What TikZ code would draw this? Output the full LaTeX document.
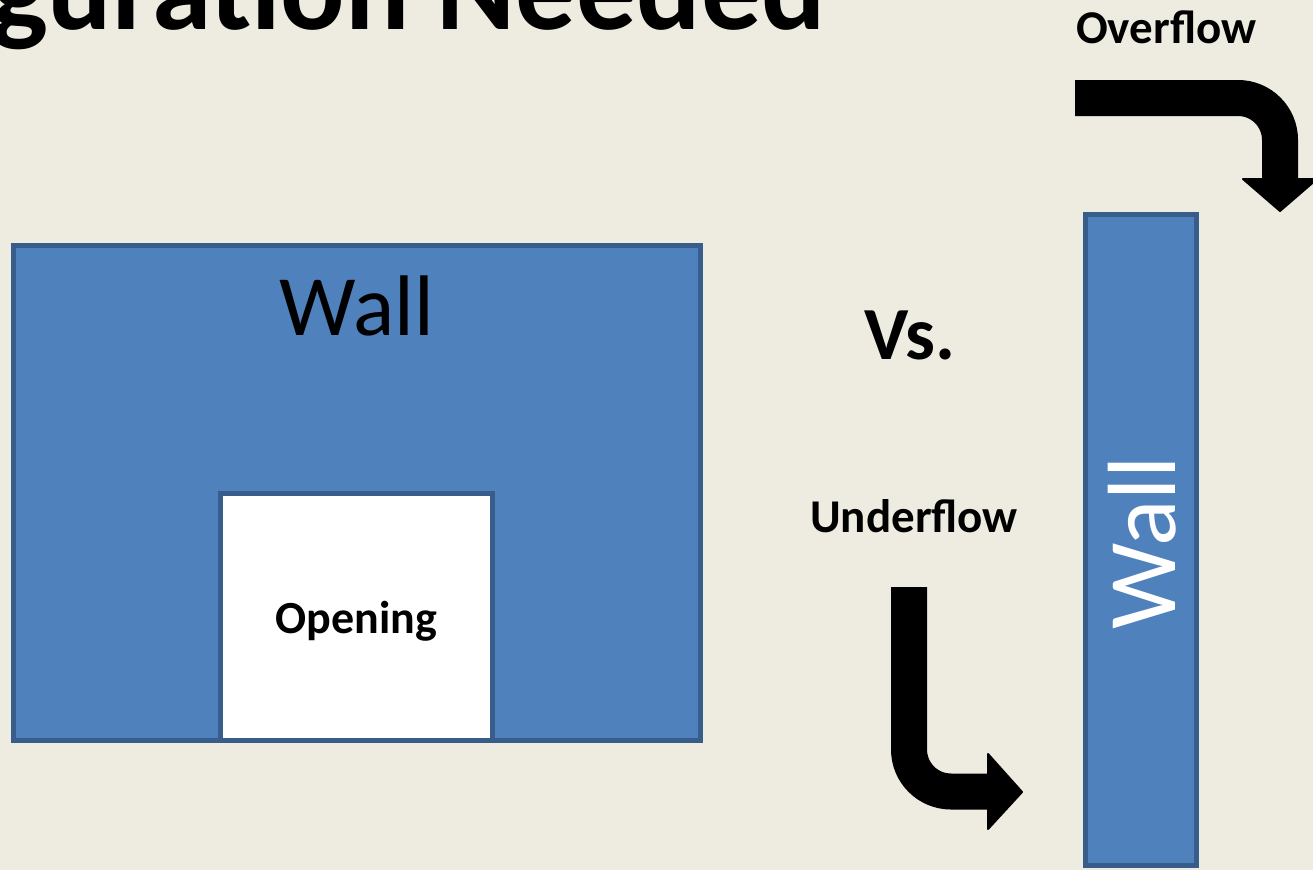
\documentclass[tikz,border=0pt]{standalone}
\usepackage{fontspec}
\setmainfont{Carlito}
\definecolor{bg}{HTML}{EEECE1}
\definecolor{wallfill}{HTML}{4F81BD}
\definecolor{wallline}{HTML}{385D8A}
\tikzset{
  wallbox/.style={draw=wallline, fill=wallfill, line width=5pt, outer sep=0pt, inner sep=0pt, anchor=north west},
  openbox/.style={draw=wallline, fill=white, line width=5pt, outer sep=0pt, inner sep=0pt, anchor=north west},
  lbl/.style={inner sep=0pt, font=\fontsize{47}{50}\selectfont\bfseries},
  bigarrow/.style={line width=36pt, rounded corners=42pt, line cap=butt, black},
  arrowhead/.style={fill=black, draw=black, line width=2pt, line join=round}
}
\begin{document}
\begin{tikzpicture}[x=1pt,y=-1pt]
\clip (0,0) rectangle (1313,870);
\useasboundingbox (0,0) rectangle (1313,870);
\fill[bg] (0,0) rectangle (1313,870);
% title (cut off at the top)
\node[anchor=base east, inner sep=0pt, font=\fontsize{120}{122}\selectfont\bfseries] (title) at (826,29) {Configuration Needed};
% left wall with opening
\node[wallbox, minimum width=687.5pt, minimum height=495.5pt] (wall) at (13,245) {};
\node[inner sep=0pt, font=\fontsize{86}{90}\selectfont, anchor=base] (walltext) at (357,335) {Wall};
\node[openbox, minimum width=272pt, minimum height=247.5pt] (opening) at (220.5,493) {};
\node[inner sep=0pt, font=\fontsize{46}{50}\selectfont\bfseries, anchor=base] (openingtext) at (356.5,633) {Opening};
% Vs.
\node[inner sep=0pt, font=\fontsize{75}{78}\selectfont\bfseries, anchor=base west] (vs) at (864,359) {Vs.};
% right wall
\node[wallbox, minimum width=111pt, minimum height=651pt] (wall2) at (1085.5,214.5) {};
\node[inner sep=0pt, font=\fontsize{97}{100}\selectfont, text=white, rotate=90, anchor=base] (wall2text) at (1175,543) {Wall};
% overflow
\node[lbl, anchor=base west] (overflow) at (1076,43) {Overflow};
\coordinate (o1) at (1075,98);
\coordinate (o2) at (1280,98);
\coordinate (o3) at (1280,179);
\draw[bigarrow] (o1) -- (o2) -- (o3);
\filldraw[arrowhead] (1243,179) -- (1317,179) -- (1280,211) -- cycle;
% underflow
\node[lbl, anchor=base west] (underflow) at (810,532) {Underflow};
\coordinate (u1) at (909,587);
\coordinate (u2) at (909,791.5);
\coordinate (u3) at (988,791.5);
\draw[bigarrow] (u1) -- (u2) -- (u3);
\filldraw[arrowhead] (988,754) -- (1022,792) -- (988,829) -- cycle;
\end{tikzpicture}
\end{document}
